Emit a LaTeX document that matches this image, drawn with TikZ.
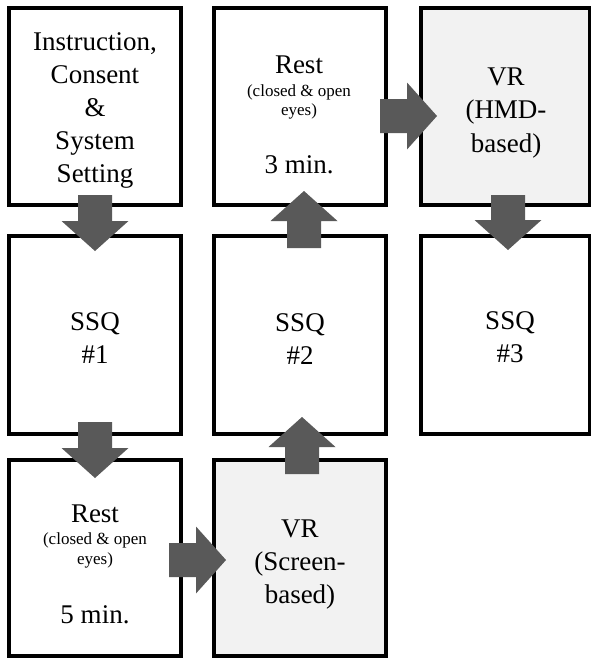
\documentclass[tikz,border=0pt]{standalone}
\usepackage{fontspec}
\setmainfont{Liberation Serif}
\usetikzlibrary{calc}
\definecolor{arrowgrey}{HTML}{595959}
\definecolor{vrfill}{HTML}{F2F2F2}
\newcommand{\blockarrow}[3]{%
  \coordinate (#3h) at ($(#2)!30pt!(#1)$);
  \fill[arrowgrey] ($(#1)!17pt!90:(#2)$) -- ($(#3h)!17pt!90:(#2)$) -- ($(#3h)!33.5pt!90:(#2)$) -- (#2)
    -- ($(#3h)!33.5pt!-90:(#2)$) -- ($(#3h)!17pt!-90:(#2)$) -- ($(#1)!17pt!-90:(#2)$) -- cycle;
}
\tikzset{
  stagebox/.style={draw=black, line width=4pt, rectangle, inner sep=0pt, minimum width=172pt, minimum height=197pt, fill=white},
  vrbox/.style={stagebox, fill=vrfill},
  big/.style={font=\fontsize{27}{33}\selectfont, inner sep=0pt, anchor=base, text=black},
  small/.style={font=\fontsize{17}{20}\selectfont, inner sep=0pt, anchor=base, text=black},
}
\begin{document}
\begin{tikzpicture}[x=1pt, y=-1pt]
\useasboundingbox (0,0) rectangle (591,659);
% boxes
\node[stagebox] (b1) at (95,106.5) {};
\node[stagebox] (b2) at (300,106.5) {};
\node[vrbox, minimum width=169pt] (b3) at (505.5,106.5) {};
\node[stagebox, minimum height=198pt] (b4) at (95,335) {};
\node[stagebox, minimum height=198pt] (b5) at (300,335) {};
\node[stagebox, minimum height=198pt, minimum width=169pt] (b6) at (505.5,335) {};
\node[stagebox, minimum height=196pt] (b7) at (95,558) {};
\node[vrbox, minimum height=196pt] (b8) at (300,558) {};
% texts
\node[big] (t1a) at (95,50) {Instruction,};
\node[big] (t1b) at (95,83) {Consent};
\node[big] (t1c) at (95,116) {\&};
\node[big] (t1d) at (95,149) {System};
\node[big] (t1e) at (95,182) {Setting};
\node[big] (t2a) at (299,73) {Rest};
\node[small] (t2b) at (299,96) {(closed \& open};
\node[small] (t2c) at (299,115) {eyes)};
\node[big] (t2d) at (299,173) {3 min.};
\node[big] (t3a) at (506,85) {VR};
\node[big] (t3b) at (506,118) {(HMD-};
\node[big] (t3c) at (506,152) {based)};
\node[big] (t4a) at (95,330) {SSQ};
\node[big] (t4b) at (95,363) {\#1};
\node[big] (t5a) at (300,331) {SSQ};
\node[big] (t5b) at (300,364) {\#2};
\node[big] (t6a) at (510,329) {SSQ};
\node[big] (t6b) at (510,362) {\#3};
\node[big] (t7a) at (95,522) {Rest};
\node[small] (t7b) at (95,544) {(closed \& open};
\node[small] (t7c) at (95,564) {eyes)};
\node[big] (t7d) at (95,623) {5 min.};
\node[big] (t8a) at (300,537) {VR};
\node[big] (t8b) at (300,570) {(Screen-};
\node[big] (t8c) at (300,603) {based)};
% arrow end points
\coordinate (a1s) at ([yshift=12pt]b1.south);
\coordinate (a1t) at ([yshift=-17pt]b4.north);
\coordinate (a2s) at ([yshift=14pt]b4.south);
\coordinate (a2t) at ([yshift=-20pt]b7.north);
\coordinate (a3s) at ([shift={(-14pt,-2pt)}]b7.east);
\coordinate (a3t) at ([shift={(14pt,-2pt)}]b8.west);
\coordinate (a4s) at ([shift={(2pt,-16pt)}]b8.north);
\coordinate (a4t) at ([shift={(2pt,19pt)}]b5.south);
\coordinate (a5s) at ([shift={(4pt,-14pt)}]b5.north);
\coordinate (a5t) at ([shift={(4pt,16pt)}]b2.south);
\coordinate (a6s) at ([shift={(-8pt,-9.5pt)}]b2.east);
\coordinate (a6t) at ([shift={(18pt,-9.5pt)}]b3.west);
\coordinate (a7s) at ([shift={(2.5pt,12pt)}]b3.south);
\coordinate (a7t) at ([shift={(2.5pt,-16pt)}]b6.north);
\blockarrow{a1s}{a1t}{a1}
\blockarrow{a2s}{a2t}{a2}
\blockarrow{a3s}{a3t}{a3}
\blockarrow{a4s}{a4t}{a4}
\blockarrow{a5s}{a5t}{a5}
\blockarrow{a6s}{a6t}{a6}
\blockarrow{a7s}{a7t}{a7}
\end{tikzpicture}
\end{document}
